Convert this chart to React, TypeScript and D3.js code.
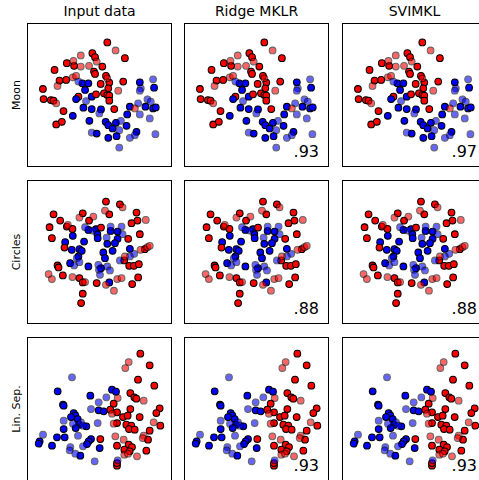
import * as d3 from "d3";
import React from "react";

// [x, y, class (0 = red, 1 = blue), test point (1) or training point (0)]
type Pt = [number, number, number, number];

const moonPoints: Pt[] = [
  [242, 372, 0, 0], [267, 348, 0, 1], [295, 325, 0, 0], [197, 340, 0, 0], [205, 328, 0, 0],
  [162, 333, 0, 1], [210, 315, 0, 1], [140, 317, 0, 1], [120, 310, 0, 0], [142, 302, 0, 0],
  [162, 300, 0, 1], [187, 302, 0, 1], [227, 300, 0, 0], [83, 290, 0, 0], [202, 285, 0, 0],
  [205, 278, 0, 0], [238, 272, 0, 0], [242, 265, 0, 1], [98, 258, 0, 0], [118, 260, 0, 0],
  [138, 268, 0, 1], [148, 272, 0, 1], [155, 255, 1, 1], [167, 250, 1, 0], [185, 250, 1, 0],
  [175, 230, 1, 0], [222, 248, 0, 0], [248, 252, 0, 0], [290, 255, 0, 0], [340, 253, 1, 0],
  [380, 262, 1, 1], [92, 242, 0, 1], [48, 233, 0, 0], [245, 235, 0, 0], [275, 228, 0, 1],
  [343, 235, 1, 1], [383, 237, 1, 0], [195, 210, 1, 0], [208, 217, 0, 0], [232, 220, 0, 0],
  [242, 215, 0, 0], [248, 213, 0, 0], [248, 198, 0, 0], [178, 197, 1, 1], [155, 210, 0, 0],
  [148, 203, 1, 0], [50, 203, 0, 0], [72, 200, 0, 0], [80, 198, 0, 0], [88, 190, 0, 1],
  [340, 228, 1, 1], [363, 202, 1, 1], [373, 195, 1, 1], [335, 190, 1, 1], [310, 180, 1, 0],
  [325, 175, 0, 1], [357, 180, 1, 0], [380, 175, 1, 0], [388, 178, 1, 0], [170, 177, 1, 0],
  [195, 173, 1, 0], [223, 172, 1, 0], [263, 173, 0, 0], [110, 167, 0, 0], [218, 160, 1, 1],
  [138, 153, 1, 0], [302, 157, 1, 0], [340, 157, 1, 1], [370, 145, 1, 1], [188, 138, 1, 0],
  [237, 135, 1, 0], [245, 125, 1, 0], [268, 132, 1, 0], [283, 138, 1, 1], [258, 115, 1, 0],
  [88, 127, 0, 0], [105, 135, 0, 0], [300, 123, 1, 0], [330, 105, 1, 0], [278, 110, 1, 1],
  [195, 103, 1, 1], [210, 100, 1, 0], [325, 95, 1, 1], [310, 87, 1, 1], [387, 98, 1, 1],
  [245, 87, 1, 0], [270, 92, 1, 0], [278, 58, 1, 1],
];

const circlesPoints: Pt[] = [
  [238, 368, 0, 0], [280, 360, 0, 0], [288, 351, 0, 1], [235, 341, 0, 1], [248, 330, 0, 0],
  [80, 330, 0, 0], [168, 333, 0, 0], [158, 320, 0, 1], [200, 323, 0, 1], [330, 335, 0, 0],
  [100, 311, 0, 0], [187, 311, 0, 0], [333, 311, 0, 0], [358, 313, 0, 1], [315, 303, 0, 0],
  [68, 291, 0, 0], [123, 298, 0, 1], [120, 293, 0, 0], [137, 286, 0, 0], [175, 291, 1, 1],
  [185, 283, 1, 0], [198, 281, 1, 1], [208, 285, 1, 0], [223, 290, 0, 0], [252, 293, 1, 1],
  [252, 280, 1, 0], [273, 278, 1, 0], [285, 293, 1, 1], [288, 270, 1, 1], [212, 270, 1, 0],
  [213, 258, 1, 0], [138, 265, 1, 0], [240, 260, 1, 1], [273, 256, 1, 0], [265, 243, 1, 0],
  [242, 241, 1, 0], [340, 270, 0, 0], [305, 256, 0, 0], [75, 258, 0, 0], [172, 248, 1, 0],
  [115, 246, 1, 0], [113, 230, 0, 0], [135, 223, 1, 0], [158, 225, 1, 0], [165, 220, 1, 0],
  [155, 203, 1, 0], [150, 198, 1, 1], [258, 220, 1, 0], [230, 215, 1, 0], [310, 226, 1, 0],
  [323, 211, 1, 1], [342, 223, 0, 1], [355, 225, 0, 0], [363, 231, 0, 1], [370, 235, 0, 1],
  [235, 198, 1, 0], [280, 191, 1, 1], [293, 191, 0, 0], [310, 203, 1, 1], [295, 203, 0, 1],
  [308, 175, 0, 0], [322, 175, 0, 0], [337, 180, 0, 0], [130, 183, 1, 0], [142, 176, 1, 1],
  [158, 186, 1, 1], [185, 173, 1, 0], [215, 178, 1, 1], [223, 168, 1, 0], [217, 163, 1, 1],
  [242, 173, 1, 1], [250, 161, 1, 1], [220, 148, 1, 1], [92, 176, 0, 0], [95, 170, 0, 0],
  [65, 150, 0, 1], [75, 135, 0, 1], [108, 146, 0, 0], [137, 141, 0, 1], [158, 138, 0, 0],
  [168, 125, 0, 0], [175, 126, 0, 1], [210, 123, 0, 0], [238, 118, 0, 1], [248, 125, 1, 0],
  [272, 135, 0, 1], [285, 138, 0, 1], [262, 100, 0, 1], [335, 140, 0, 0], [317, 120, 0, 0],
  [168, 91, 0, 0], [163, 63, 0, 0],
];

const linSepPoints: Pt[] = [
  [340, 382, 0, 0], [305, 357, 0, 1], [295, 339, 0, 1], [368, 347, 0, 0], [135, 311, 1, 1],
  [333, 304, 0, 0], [382, 286, 0, 0], [92, 269, 1, 0], [255, 274, 1, 0], [267, 268, 1, 0],
  [190, 256, 1, 0], [310, 264, 0, 0], [322, 251, 0, 0], [328, 247, 0, 0], [272, 249, 0, 1],
  [350, 241, 0, 1], [215, 236, 1, 1], [238, 251, 1, 1], [260, 232, 0, 0], [108, 229, 1, 0],
  [110, 226, 1, 0], [192, 216, 1, 1], [215, 212, 1, 0], [230, 209, 1, 0], [250, 214, 0, 0],
  [270, 206, 0, 0], [255, 202, 0, 1], [310, 216, 0, 0], [398, 218, 0, 0], [388, 204, 0, 0],
  [140, 204, 1, 0], [145, 197, 1, 0], [132, 192, 1, 0], [110, 181, 1, 1], [152, 186, 1, 0],
  [162, 176, 1, 1], [156, 169, 1, 0], [168, 166, 1, 1], [178, 164, 1, 0], [138, 172, 1, 1],
  [146, 159, 1, 0], [212, 174, 1, 1], [288, 192, 0, 0], [302, 196, 0, 0], [338, 192, 0, 0],
  [380, 176, 0, 1], [270, 174, 0, 0], [298, 169, 0, 0], [313, 166, 0, 0], [260, 172, 0, 1],
  [306, 156, 0, 0], [323, 154, 0, 0], [400, 166, 0, 0], [110, 156, 1, 0], [368, 151, 0, 0],
  [48, 139, 1, 1], [90, 131, 1, 0], [113, 131, 1, 0], [153, 136, 1, 1], [38, 119, 1, 0],
  [35, 112, 1, 0], [75, 106, 1, 0], [192, 126, 1, 0], [185, 119, 1, 0], [220, 126, 0, 0],
  [265, 134, 0, 1], [290, 124, 0, 1], [350, 136, 0, 1], [363, 124, 0, 0], [347, 129, 0, 1],
  [305, 109, 0, 0], [315, 102, 0, 0], [270, 106, 0, 0], [292, 94, 0, 0], [130, 102, 1, 1],
  [128, 92, 1, 1], [168, 104, 1, 1], [180, 111, 1, 0], [218, 99, 1, 0], [145, 82, 1, 1],
  [160, 76, 1, 0], [292, 79, 0, 1], [303, 82, 0, 1], [330, 74, 0, 1], [308, 89, 0, 0],
  [358, 91, 0, 0], [270, 46, 0, 0], [203, 59, 1, 1], [272, 62, 1, 1], [270, 54, 0, 0],
];

const datasets: Pt[][] = [moonPoints, circlesPoints, linSepPoints];
const datasetNames = ["Moon", "Circles", "Lin. Sep."];
const classifierNames = ["Input data", "Ridge MKLR", "SVIMKL"];
const scoreLabels: (string | null)[][] = [
  [null, ".93", ".97"],
  [null, ".88", ".88"],
  [null, ".93", ".93"],
];
const domainX: [number, number][] = [[0, 437], [0, 437], [0, 435]];
const domainY: [number, number][] = [[0, 430], [0, 433], [0, 432]];
const classColors = ["#FF0000", "#0000FF"];

const panelLefts = [27, 184, 342];
const panelTops = [23, 180, 337];
const PW = 145;
const PH = 144;
const FONT = "DejaVu Sans, sans-serif";

export default function App() {
  return (
    <svg
      width={479}
      height={480}
      style={{ position: "absolute", left: 0, top: 0, background: "#fff" }}
      fontFamily={FONT}
    >
      <rect x={0} y={0} width={479} height={480} fill="#fff" />
      {classifierNames.map((name, c) => (
        <text key={name} x={panelLefts[c] + PW / 2} y={16} fontSize={14} textAnchor="middle" fill="#000">
          {name}
        </text>
      ))}
      {datasets.map((pts, r) => {
        const xs = d3.scaleLinear().domain(domainX[r]).range([0, PW]);
        const ys = d3.scaleLinear().domain(domainY[r]).range([PH, 0]);
        const ordered = [...pts.filter((p) => p[3] === 0), ...pts.filter((p) => p[3] === 1)];
        return (
          <g key={r}>
            <text
              transform={`translate(20,${panelTops[r] + PH / 2}) rotate(-90)`}
              fontSize={11}
              textAnchor="middle"
              fill="#000"
            >
              {datasetNames[r]}
            </text>
            {classifierNames.map((_, c) => (
              <g key={c} transform={`translate(${panelLefts[c]},${panelTops[r]})`}>
                <rect x={0} y={0} width={PW} height={PH} fill="#fff" />
                {ordered.map((p, i) => (
                  <circle
                    key={i}
                    cx={xs(p[0])}
                    cy={ys(p[1])}
                    r={3.35}
                    fill={classColors[p[2]]}
                    stroke="#000"
                    strokeWidth={1.05}
                    opacity={p[3] === 1 ? 0.6 : 1}
                  />
                ))}
                {scoreLabels[r][c] && (
                  <text x={PW - 10} y={PH - 10} fontSize={16} textAnchor="end" fill="#000">
                    {scoreLabels[r][c]}
                  </text>
                )}
                <rect x={0.5} y={0.5} width={PW - 1} height={PH - 1} fill="none" stroke="#000" strokeWidth={1} />
              </g>
            ))}
          </g>
        );
      })}
    </svg>
  );
}
